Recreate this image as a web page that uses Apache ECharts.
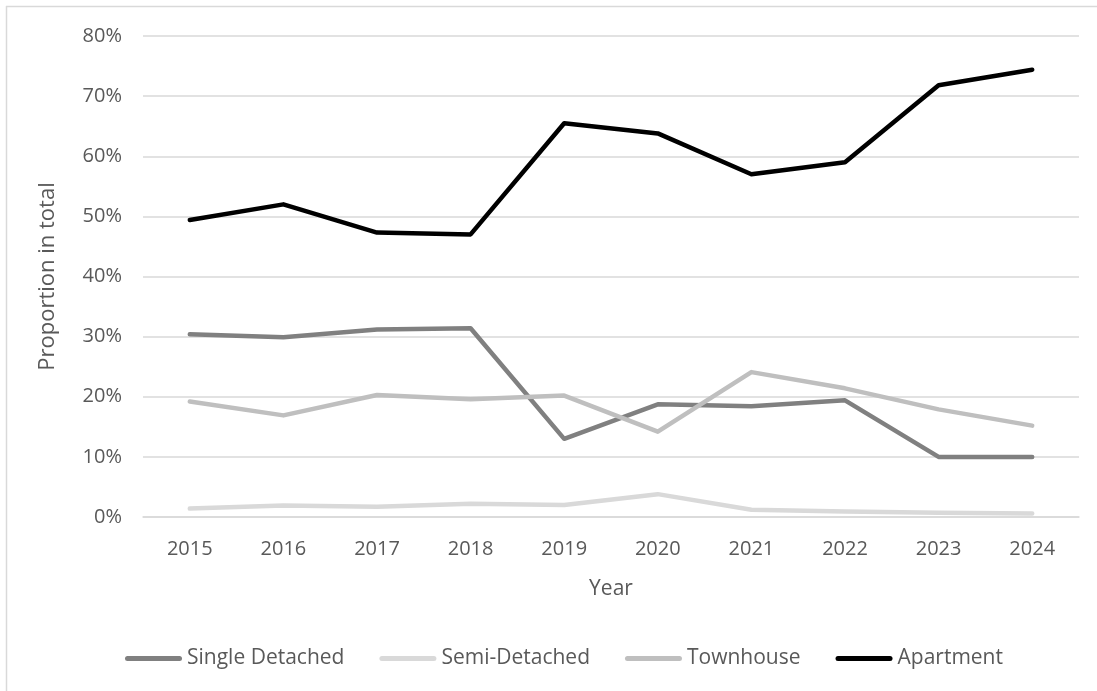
<!DOCTYPE html>
<html>
<head>
<meta charset="utf-8">
<script src="https://cdn.jsdelivr.net/npm/echarts@6/dist/echarts.min.js"></script>
<style>
html,body{margin:0;padding:0;background:#fff;}
#chart{width:1097px;height:691px;}
</style>
</head>
<body>
<div id="chart"></div>
<script>
const years = ['2015','2016','2017','2018','2019','2020','2021','2022','2023','2024'];
const singleDetached = [30.4, 29.9, 31.2, 31.4, 13.0, 18.75, 18.4, 19.4, 10.0, 10.0];
const semiDetached = [1.4, 1.9, 1.7, 2.2, 2.0, 3.8, 1.2, 0.9, 0.7, 0.6];
const townhouse = [19.2, 16.9, 20.3, 19.6, 20.2, 14.2, 24.1, 21.4, 17.9, 15.2];
const apartment = [49.4, 52.0, 47.3, 47.0, 65.5, 63.8, 57.0, 59.0, 71.8, 74.4];
const seriesNames = ['Single Detached', 'Semi-Detached', 'Townhouse', 'Apartment'];
const seriesColors = ['#808080', '#d9d9d9', '#bfbfbf', '#000000'];
const seriesData = [singleDetached, semiDetached, townhouse, apartment];

const FONT = '"Open Sans", "Noto Sans", sans-serif';
const TXT = '#595959';
const capIcon = 'path://M2.5,0H54.5A2.5,2.5,0,0,1,54.5,5H2.5A2.5,2.5,0,0,1,2.5,0Z';

const chart = echarts.init(document.getElementById('chart'), null, {renderer: 'canvas'});
chart.setOption({
  animation: false,
  backgroundColor: '#ffffff',
  textStyle: {fontFamily: FONT},
  grid: {left: 143, right: 18, top: 36, bottom: 174, containLabel: false},
  legend: {
    left: 120, top: 643,
    icon: capIcon,
    itemWidth: 57, itemHeight: 5, itemGap: 35,
    textStyle: {fontFamily: FONT, fontSize: 21, color: TXT},
    data: seriesNames.map((n, i) => ({name: n, itemStyle: {color: seriesColors[i]}}))
  },
  xAxis: {
    type: 'category',
    data: years,
    boundaryGap: true,
    name: 'Year',
    nameLocation: 'middle',
    nameGap: 62,
    nameTextStyle: {fontFamily: FONT, fontSize: 21, color: TXT},
    axisLine: {show: true, lineStyle: {color: '#d9d9d9', width: 1.5}},
    axisTick: {show: false},
    axisLabel: {fontFamily: FONT, fontSize: 20, color: TXT, margin: 22}
  },
  yAxis: {
    type: 'value',
    min: 0, max: 80, interval: 10,
    name: 'Proportion in total',
    nameLocation: 'middle',
    nameGap: 84,
    nameRotate: 90,
    nameTextStyle: {fontFamily: FONT, fontSize: 22, color: TXT},
    axisLine: {show: false},
    axisTick: {show: false},
    axisLabel: {fontFamily: FONT, fontSize: 20, color: TXT, margin: 21, formatter: '{value}%'},
    splitLine: {lineStyle: {color: '#d9d9d9', width: 1.5}}
  },
  series: seriesNames.map((n, i) => ({
    name: n,
    type: 'line',
    data: seriesData[i],
    symbol: 'none',
    showSymbol: false,
    itemStyle: {color: seriesColors[i]},
    lineStyle: {color: seriesColors[i], width: 4.5, cap: 'round', join: 'round'},
    emphasis: {disabled: true}
  })),
  graphic: [
    {type: 'line', shape: {x1: 6, y1: 6.5, x2: 1097, y2: 6.5}, style: {stroke: '#d9d9d9', lineWidth: 1.5}, silent: true},
    {type: 'line', shape: {x1: 6.5, y1: 6, x2: 6.5, y2: 691}, style: {stroke: '#d9d9d9', lineWidth: 1.5}, silent: true}
  ]
});
</script>
</body>
</html>
